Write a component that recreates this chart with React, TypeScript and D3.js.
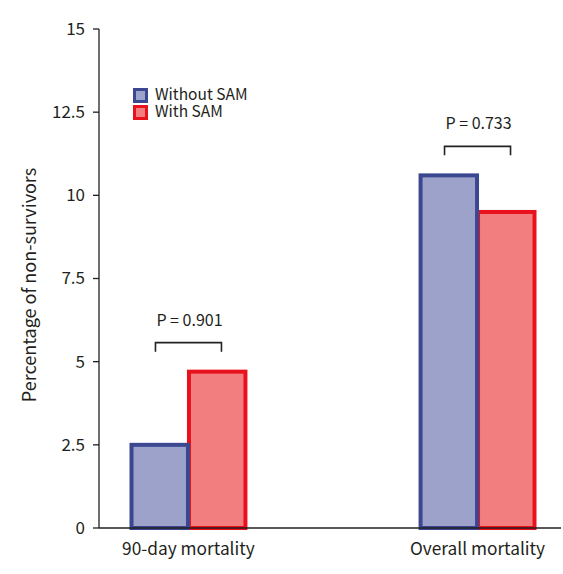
import React from "react";
import * as d3 from "d3";

const categories = ["90-day mortality", "Overall mortality"];
const seriesNames = ["Without SAM", "With SAM"];
const withoutSam = [2.5, 10.6];
const withSam = [4.7, 9.5];
const pValues = ["P = 0.901", "P = 0.733"];
const yTicks = [0, 2.5, 5, 7.5, 10, 12.5, 15];

const W = 563;
const H = 574;
const FONT = "'Noto Sans CJK KR', 'Noto Sans', sans-serif";
const strokes = ["#3b4891", "#e8121c"];
const fills = ["#9ca2c9", "#f27e80"];

export default function App() {
  const y = d3.scaleLinear().domain([0, 15]).range([528, 29]);
  const x = d3
    .scaleBand<string>()
    .domain(categories)
    .range([99, 567])
    .paddingInner(0.592)
    .paddingOuter(0.1055);
  const sub = d3.scaleBand<string>().domain(seriesNames).range([0, x.bandwidth()]);
  const values = [withoutSam, withSam];
  const sw = 4;

  const bars: React.ReactNode[] = [];
  // draw red (With SAM) first, then blue on top
  [1, 0].forEach((s) => {
    categories.forEach((c, i) => {
      const x0 = (x(c) as number) + (sub(seriesNames[s]) as number);
      const v = values[s][i];
      bars.push(
        <rect
          key={`${s}-${i}`}
          x={x0 + sw / 2 - (s === 1 ? 1.5 : 0)}
          y={y(v)}
          width={sub.bandwidth() - sw + 1.5}
          height={y(0) - y(v)}
          fill={fills[s]}
          stroke={strokes[s]}
          strokeWidth={sw}
        />
      );
    });
  });

  const brackets = categories.map((c, i) => {
    const cx = (x(c) as number) + x.bandwidth() / 2;
    const topVal = Math.max(withoutSam[i], withSam[i]);
    const by = y(topVal) - 29;
    const half = 33;
    return (
      <g key={c}>
        <path
          d={`M${cx - half},${by + 9}V${by}H${cx + half}V${by + 9}`}
          fill="none"
          stroke="#222"
          strokeWidth={1.6}
        />
        <text
          x={cx + 1}
          y={by - 17}
          textAnchor="middle"
          fontSize={16}
          fill="#231f20"
          fontFamily={FONT}
        >
          {pValues[i]}
        </text>
      </g>
    );
  });

  return (
    <svg
      width={W}
      height={H}
      style={{ position: "absolute", left: 0, top: 0, background: "#fff" }}
    >
      {bars}
      {/* y axis */}
      <line x1={99} x2={99} y1={29} y2={528} stroke="#231f20" strokeWidth={1.3} />
      {yTicks.map((t) => (
        <g key={t}>
          <line x1={93} x2={99} y1={y(t)} y2={y(t)} stroke="#231f20" strokeWidth={1.3} />
          <text
            x={85}
            y={y(t)}
            dy="0.35em"
            textAnchor="end"
            fontSize={17}
            fill="#231f20"
            fontFamily={FONT}
          >
            {String(t)}
          </text>
        </g>
      ))}
      {/* x axis */}
      <line x1={99} x2={561} y1={528} y2={528} stroke="#231f20" strokeWidth={1.3} />
      {categories.map((c) => (
        <text
          key={c}
          x={(x(c) as number) + x.bandwidth() / 2}
          y={555}
          textAnchor="middle"
          fontSize={17.3}
          fill="#231f20"
          fontFamily={FONT}
        >
          {c}
        </text>
      ))}
      <text
        transform={`translate(36,285) rotate(-90)`}
        textAnchor="middle"
        fontSize={18}
        fill="#231f20"
        fontFamily={FONT}
      >
        Percentage of non-survivors
      </text>
      {brackets}
      {/* legend */}
      {seriesNames.map((n, i) => (
        <g key={n} transform={`translate(133,${88 + i * 17})`}>
          <rect x={1.5} y={1.5} width={12} height={12} fill={fills[i]} stroke={strokes[i]} strokeWidth={3} />
          <text x={22} y={12} fontSize={15.5} fill="#231f20" fontFamily={FONT}>
            {n}
          </text>
        </g>
      ))}
    </svg>
  );
}
